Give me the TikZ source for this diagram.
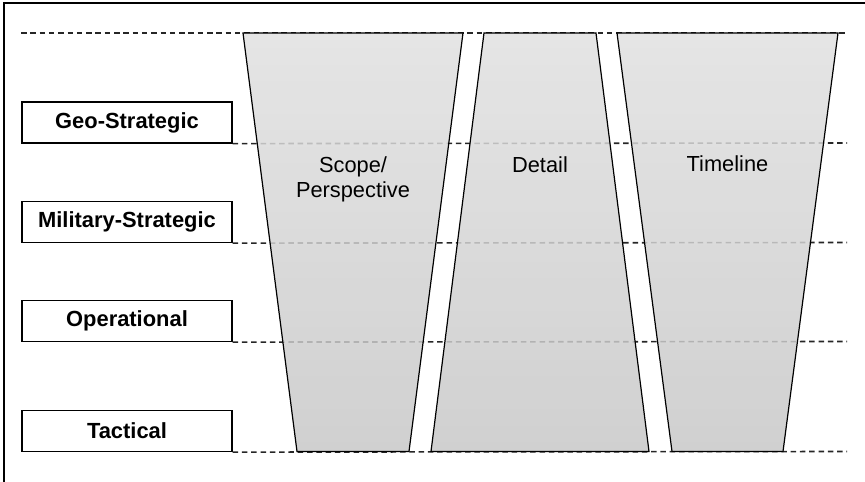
\documentclass[tikz,border=0pt]{standalone}
\usepackage{fontspec}
\setmainfont{Liberation Sans}
\begin{document}
\begin{tikzpicture}[x=1pt,y=-1pt,
  level/.style={draw, line width=1.2pt, fill=white, minimum width=210pt, minimum height=41pt, inner sep=0pt, font=\bfseries\fontsize{21.9}{25}\selectfont},
  guide/.style={dash pattern=on 5.5pt off 3.8pt, line width=1.6pt, draw=black!85},
  trap/.style={draw, line width=1.2pt, top color=black!12, bottom color=black!22, fill opacity=0.84},
  lbl/.style={anchor=base, align=center, inner sep=0pt, font=\fontsize{21.8}{25}\selectfont}]
\useasboundingbox (0,0) rectangle (865,482);
% frame
\coordinate (fr1) at (865,3);
\coordinate (fr2) at (4,3);
\coordinate (fr3) at (4,482);
\draw[line width=1.5pt] (fr1) -- (fr2) -- (fr3);
% guide ends
\coordinate (t0) at (21,33);
\coordinate (t1) at (847,33);
\coordinate (e1) at (847,143);
\coordinate (e2) at (847,242.5);
\coordinate (e3) at (847,341.5);
\coordinate (e4) at (847,451.5);
% level boxes
\node[level] (geo) at (127,122.5) {Geo-Strategic};
\node[level] (mil) at (127,222) {Military-Strategic};
\node[level] (ope) at (127,321) {Operational};
\node[level] (tac) at (127,431) {Tactical};
\draw[guide] (t0) -- (t1);
\draw[guide] (geo.south east) -- (e1);
\draw[guide] (mil.south east) -- (e2);
\draw[guide] (ope.south east) -- (e3);
\draw[guide] (tac.south east) -- (e4);
% trapezoids
\coordinate (a1) at (243,33); \coordinate (a2) at (463,33);
\coordinate (a3) at (409,451.5); \coordinate (a4) at (297,451.5);
\coordinate (b1) at (484,33); \coordinate (b2) at (596,33);
\coordinate (b3) at (649,451.5); \coordinate (b4) at (431,451.5);
\coordinate (c1) at (617,33); \coordinate (c2) at (838,33);
\coordinate (c3) at (783,451.5); \coordinate (c4) at (672,451.5);
\path[trap] (a1) -- (a2) -- (a3) -- (a4) -- cycle;
\path[trap] (b1) -- (b2) -- (b3) -- (b4) -- cycle;
\path[trap] (c1) -- (c2) -- (c3) -- (c4) -- cycle;
% labels
\node[lbl] (scope) at (353,197) {Scope/\\Perspective};
\node[lbl] (detail) at (540,172) {Detail};
\node[lbl] (time) at (727.5,171.5) {Timeline};
\end{tikzpicture}
\end{document}
